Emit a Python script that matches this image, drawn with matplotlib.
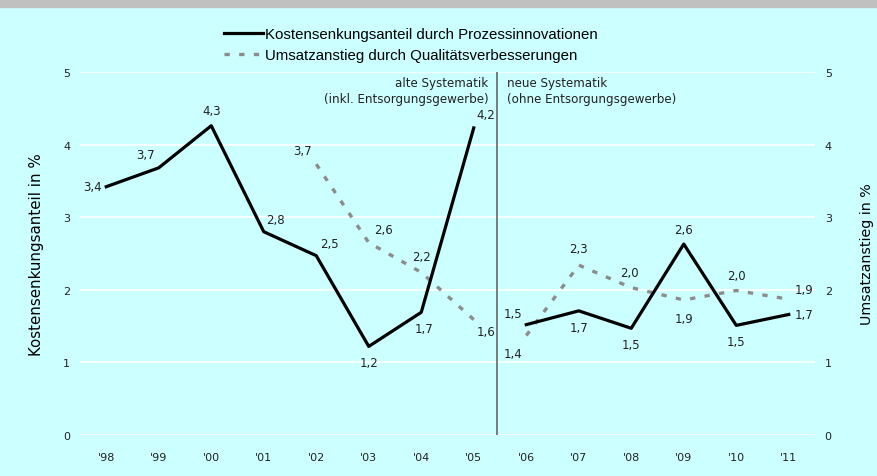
import matplotlib
matplotlib.use("Agg")
import matplotlib.pyplot as plt
import numpy as np

years = ["'98", "'99", "'00", "'01", "'02", "'03", "'04", "'05",
         "'06", "'07", "'08", "'09", "'10", "'11"]
# Kostensenkungsanteil durch Prozessinnovationen (alte / neue Systematik)
kosten = [3.42, 3.68, 4.26, 2.80, 2.47, 1.22, 1.69, 4.23,
          1.52, 1.71, 1.47, 2.63, 1.51, 1.66]
kosten_lbl = ["3,4", "3,7", "4,3", "2,8", "2,5", "1,2", "1,7", "4,2",
              "1,5", "1,7", "1,5", "2,6", "1,5", "1,7"]
# Umsatzanstieg durch Qualitätsverbesserungen
umsatz = [np.nan, np.nan, np.nan, np.nan, 3.73, 2.65, 2.24, 1.59,
          1.37, 2.34, 2.03, 1.86, 1.99, 1.87]
umsatz_lbl = ["", "", "", "", "3,7", "2,6", "2,2", "1,6",
              "1,4", "2,3", "2,0", "1,9", "2,0", "1,9"]
split = 8  # first index of "neue Systematik"

BG = "#ccffff"
TXT = "#222222"
plt.rcParams["font.family"] = ["DejaVu Sans"]

fig = plt.figure(figsize=(8.77, 4.77), dpi=100, facecolor=BG)
ax = fig.add_axes([80 / 877, 41 / 477, 735 / 877, 363 / 477])
ax.set_facecolor(BG)
for s in ax.spines.values():
    s.set_visible(False)

# grey band at top
fig.patches.append(plt.Rectangle((0, 469 / 477), 1, 8 / 477, transform=fig.transFigure,
                                 color="#c0c0c0", zorder=0))

x = np.arange(len(years))
ax.set_xlim(-0.5, 13.5)
ax.set_ylim(0, 5)
ax.set_yticks(range(6))
ax.grid(axis="y", color="white", lw=1.2)
ax.set_axisbelow(True)
ax.set_xticks(x)
ax.set_xticklabels(years, fontsize=8, color=TXT)
ax.tick_params(axis="x", length=0, pad=12)
ax.tick_params(axis="y", length=0, labelsize=8, pad=7, colors=TXT)

sec = ax.twinx()
for s in sec.spines.values():
    s.set_visible(False)
sec.set_ylim(0, 5)
sec.set_yticks(range(6))
sec.tick_params(length=0, labelsize=8, pad=7, colors=TXT)

ax.set_ylabel("Kostensenkungsanteil in %", fontsize=10.8, labelpad=14)
sec.set_ylabel("Umsatzanstieg in %", fontsize=10.3, labelpad=20)

dash_col = "#8c8c8c"
dash = (0, (1.6, 2.8))
l1, = ax.plot(x[:split], kosten[:split], color="black", lw=2.3, zorder=4,
              label="Kostensenkungsanteil durch Prozessinnovationen")
ax.plot(x[split:], kosten[split:], color="black", lw=2.3, zorder=4)
l2, = ax.plot(x[:split], umsatz[:split], color=dash_col, lw=2.4, ls=dash, zorder=3,
              label="Umsatzanstieg durch Qualitätsverbesserungen")
ax.plot(x[split:], umsatz[split:], color=dash_col, lw=2.4, ls=dash, zorder=3)

ax.axvline(7.45, ymin=0, ymax=1, color="#666666", lw=1.2)

# label offsets (points) and alignments
k_off = [(-3, 0, "right", "center"), (-3, 5, "right", "bottom"), (0, 6, "center", "bottom"),
         (2, 4, "left", "bottom"), (3, 4, "left", "bottom"), (0, -7, "center", "top"),
         (2, -7, "center", "top"), (2, 5, "left", "bottom"), (-3, 3, "right", "bottom"),
         (0, -7, "center", "top"), (0, -7, "center", "top"), (0, 6, "center", "bottom"),
         (0, -7, "center", "top"), (4, 0, "left", "center")]
u_off = [None] * 4 + [(-3, 5, "right", "bottom"), (4, 5, "left", "bottom"), (0, 7, "center", "bottom"),
                      (2, -4, "left", "top"), (-3, -8, "right", "top"), (0, 7, "center", "bottom"),
                      (-1, 6, "center", "bottom"), (0, -9, "center", "top"), (0, 6, "center", "bottom"),
                      (4, 2, "left", "bottom")]
for i in x:
    dx, dy, ha, va = k_off[i]
    ax.annotate(kosten_lbl[i], (i, kosten[i]), xytext=(dx, dy), textcoords="offset points",
                ha=ha, va=va, fontsize=8.5, color=TXT, zorder=5)
    if umsatz_lbl[i]:
        dx, dy, ha, va = u_off[i]
        ax.annotate(umsatz_lbl[i], (i, umsatz[i]), xytext=(dx, dy), textcoords="offset points",
                    ha=ha, va=va, fontsize=8.5, color=TXT, zorder=5)

ax.text(7.28, 4.95, "alte Systematik\n(inkl. Entsorgungsgewerbe)", ha="right", va="top",
        fontsize=8.6, color=TXT, linespacing=1.35)
ax.text(7.64, 4.95, "neue Systematik\n(ohne Entsorgungsgewerbe)", ha="left", va="top",
        fontsize=8.6, color=TXT, linespacing=1.35)

fig.legend(handles=[l1, l2], loc="upper left", bbox_to_anchor=(210 / 877, 462 / 477),
           frameon=False, handlelength=2.6, handletextpad=0.15,
           labelspacing=0.45, prop={"family": "Liberation Sans", "size": 10.8})

fig.savefig("out.png", dpi=100, facecolor=BG)
